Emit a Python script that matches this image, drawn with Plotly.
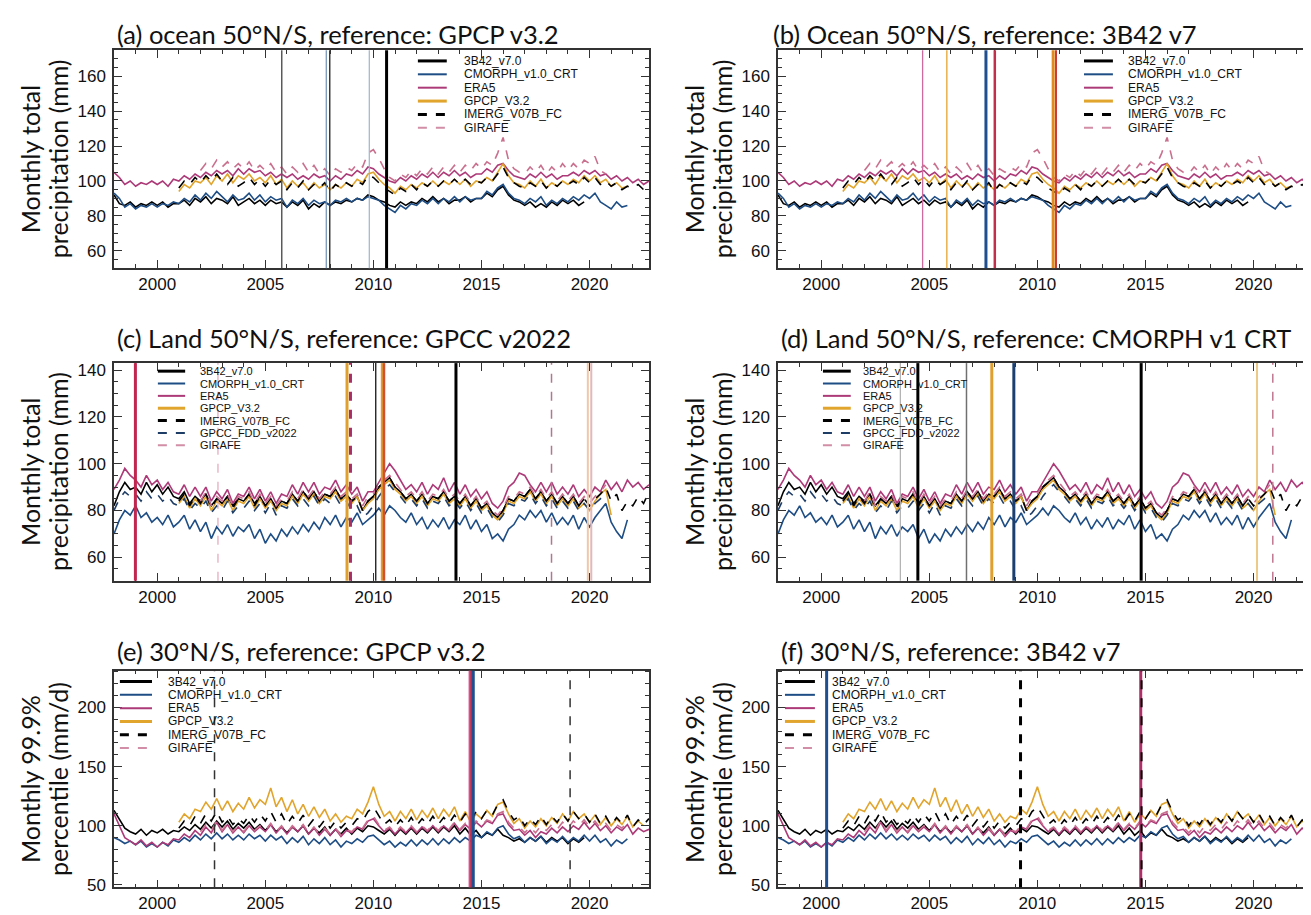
import plotly.graph_objects as go

# ---------------- data (quarterly samples) ----------------
QSTEP = 0.25

# Ocean 50N/S, monthly total precipitation (mm)
ocean_3b42_start = 1998.0
ocean_3b42 = [92,87,86,88, 85,87,86,88, 86,88,85,87, 87,89,86,90, 88,91,87,90, 89,87,91,86,
              88,90,87,89, 86,89,87,88, 85,88,86,89, 84,87,85,88, 86,88,87,89, 88,90,89,92,
              91,89,88,86, 85,88,86,88, 87,90,88,91, 88,90,87,89, 89,91,88,90, 90,93,91,95,
              97,92,89,88, 86,88,85,87, 85,88,86,89, 87,89,86,88]
ocean_cmorph_start = 1998.0
ocean_cmorph = [93,90,85,87, 84,86,85,87, 85,87,86,88, 87,90,88,92, 89,93,90,94, 91,88,92,89,
                90,93,89,92, 88,91,89,90, 85,89,87,90, 86,89,87,88, 86,89,88,90, 88,90,89,91,
                90,89,86,84, 82,86,84,87, 86,89,87,90, 87,90,88,91, 88,91,89,90, 90,94,92,96,
                98,93,90,89, 87,90,88,91, 86,89,87,90, 88,91,89,92, 90,93,88,86, 84,88,85,86]
ocean_era5_start = 1998.0
ocean_era5 = [105,102,98,100, 97,99,98,100, 98,100,97,101, 100,103,101,104, 102,105,103,106,
              104,106,103,107, 104,107,105,106, 103,105,102,104, 102,104,101,103, 101,104,102,103,
              100,103,101,104, 103,106,104,108, 107,104,102,100, 99,102,100,103, 101,104,102,105,
              102,105,103,106, 103,105,102,104, 104,107,105,109, 110,106,103,102, 101,104,102,105,
              102,104,101,103, 103,105,103,106, 104,106,103,104, 101,103,100,102, 99,101,98,100]
ocean_gpcp_start = 2001.0
ocean_gpcp = [94,98,96,100, 99,102,98,103, 100,104,99,103, 101,104,100,102, 99,103,98,101,
              96,100,97,99, 95,99,96,98, 95,98,96,99, 97,101,99,104, 105,101,98,96,
              93,97,95,98, 96,99,97,100, 97,100,98,101, 98,101,97,100, 99,102,100,105,
              110,103,99,98, 96,100,97,101, 96,99,97,100, 98,101,99,103, 100,103,99,101, 97,99,96,97]
ocean_imerg_start = 2001.0
ocean_imerg = [96,100,98,102, 99,103,100,104, 100,98,102,97, 99,102,98,101, 97,101,98,100,
               95,99,96,100, 95,98,96,99, 94,98,96,99, 97,100,98,103, 102,99,96,94,
               92,96,94,98, 95,99,97,100, 97,100,98,101, 98,101,98,100, 99,102,100,104,
               108,102,99,97, 96,99,97,100, 96,99,97,100, 98,100,98,102, 99,102,98,100,
               97,99,95,97, 96,98,95,97]
ocean_girafe_start = 2002.0
ocean_girafe = [106,110,107,112, 108,111,107,110, 107,111,106,109, 106,110,105,108, 104,108,105,110,
                105,109,104,107, 103,107,105,108, 106,110,108,116, 118,113,107,102, 100,104,102,106,
                103,107,104,108, 104,108,105,109, 105,109,106,110, 107,111,109,116, 125,112,107,105,
                104,108,105,109, 104,108,105,110, 106,110,107,112, 110,114,106,104]

# Land 50N/S, monthly total precipitation (mm)
land_3b42_start = 1998.0
land_3b42 = [82,88,92,89, 90,87,92,88, 91,87,90,86, 85,88,83,86, 84,87,82,85, 83,86,82,85,
             84,87,83,86, 82,85,81,84, 83,87,84,88, 85,88,84,87, 86,89,85,87, 84,86,80,84,
             86,90,92,94, 90,88,85,87, 84,87,83,86, 85,88,84,86, 83,86,82,85, 81,83,79,77,
             80,85,84,87, 86,89,85,88, 84,87,83,86, 83,86,82,85]
land_cmorph_start = 1998.0
land_cmorph = [70,76,80,78, 82,77,79,75, 77,74,78,73, 75,78,72,76, 71,75,68,73, 70,74,69,73,
               71,74,68,72, 66,70,67,72, 69,73,70,74, 71,75,72,77, 74,78,73,77, 75,79,74,76,
               78,81,78,82, 80,77,75,79, 74,77,72,76, 73,77,72,76, 74,78,72,76, 71,74,68,70,
               67,72,74,78, 76,80,77,80, 75,79,74,77, 74,78,72,77, 73,77,80,83, 75,71,68,76]
land_era5_start = 1998.0
land_era5 = [89,93,98,95, 93,90,95,91, 93,89,92,88, 87,91,86,90, 86,90,84,88, 85,89,83,87,
             86,90,85,89, 84,88,83,87, 86,91,87,92, 88,92,87,90, 89,93,88,91, 87,90,84,88,
             88,92,96,100, 97,93,89,91, 88,92,87,91, 89,94,88,92, 87,91,86,89, 85,88,83,81,
             84,90,92,96, 95,91,88,92, 88,92,87,90, 87,91,86,89, 86,90,88,93, 89,92,88,93,
             90,92,89,91]
land_gpcp_start = 2001.0
land_gpcp = [83,86,81,85, 82,86,80,84, 82,85,80,84, 83,86,81,85, 81,84,80,83, 82,86,83,87,
             84,87,83,86, 85,88,84,86, 83,86,80,83, 85,89,91,93, 89,87,84,86, 83,86,82,85,
             84,87,83,85, 82,85,81,84, 80,82,78,76, 79,84,83,86, 85,88,84,87, 83,86,82,85,
             82,85,81,83, 80,84,87,89, 78]
land_imerg_start = 2001.0
land_imerg = [84,87,82,86, 83,87,81,85, 83,86,81,85, 84,87,82,86, 82,85,81,84, 83,87,84,88,
              85,88,84,87, 86,89,85,87, 84,86,80,84, 86,90,92,94, 90,88,85,87, 84,87,83,86,
              85,88,84,86, 83,86,82,85, 81,83,79,77, 80,85,84,87, 86,89,85,88, 84,87,83,86,
              83,86,82,85, 82,85,87,90, 84,87,80,84, 82,86,83,88]
land_gpcc_start = 1998.0
land_gpcc = [80,85,88,86, 87,84,88,85, 87,84,86,83, 82,85,80,83, 81,84,79,82, 80,84,79,82,
             81,84,80,83, 79,83,78,82, 81,85,82,85, 82,86,82,85, 83,86,82,84, 80,82,77,79,
             82,86,89,91, 88,86,83,85, 82,85,81,84, 83,86,82,84, 81,84,80,83, 79,81,77,75,
             78,83,82,85, 84,87,83,86, 82,85,81,84, 81,84,80,83, 80,83,85,87]
land_girafe_start = 2002.0
land_girafe = [84,88,82,86, 84,87,82,86, 85,88,83,87, 83,86,82,85, 84,88,85,89, 86,89,85,88,
               87,90,86,88, 85,87,82,86, 87,91,93,95, 92,89,86,88, 85,88,84,87, 86,89,85,87,
               84,87,83,86, 82,84,80,78, 81,86,85,88, 87,90,86,89, 85,88,84,87, 84,87,83,86,
               83,86,88,91]

# 30N/S, monthly 99.9% percentile (mm/d)
ext_3b42_start = 1998.0
ext_3b42 = [113,105,98,95, 93,97,92,96, 94,97,93,96, 95,99,96,101, 97,103,98,104, 99,104,97,102,
            98,103,97,101, 96,101,95,99, 94,99,95,100, 93,98,94,99, 92,97,93,98, 93,98,95,100,
            99,96,93,97, 92,97,93,98, 93,98,94,99, 94,99,95,100, 93,98,92,96, 90,94,92,97,
            92,90,87,89, 86,90,87,91, 86,90,87,90, 85,89,86,90]
ext_cmorph_start = 1998.0
ext_cmorph = [90,88,85,87, 84,87,82,85, 82,86,83,88, 86,90,87,92, 88,93,89,94, 89,93,88,92,
              88,93,89,92, 87,92,88,91, 85,90,86,91, 84,89,85,90, 84,88,82,87, 85,89,86,91,
              92,88,84,87, 82,86,83,88, 83,88,84,89, 84,89,85,90, 86,90,87,92, 90,95,92,98,
              100,93,89,91, 86,90,87,91, 85,89,86,91, 86,90,87,92, 87,92,86,89, 83,88,85,89]
ext_era5_start = 1998.0
ext_era5 = [110,100,90,87, 84,88,83,86, 82,86,84,89, 88,93,90,96, 92,99,94,103, 95,101,94,99,
            94,100,95,99, 95,101,94,99, 93,99,95,100, 93,98,92,97, 92,97,91,96, 94,99,97,104,
            106,100,95,98, 93,98,94,99, 94,99,95,100, 95,100,96,102, 96,101,97,103, 99,104,102,109,
            110,101,96,97, 92,96,90,95, 93,98,94,99, 95,100,97,103, 97,102,96,100, 94,99,96,101,
            93,98,95,97]
ext_gpcp_start = 2001.0
ext_gpcp = [103,110,106,114, 112,120,114,123, 113,121,112,119, 114,124,115,122, 118,132,116,124,
            112,122,110,118, 108,116,107,114, 104,110,103,108, 106,114,110,120, 133,118,108,112,
            104,112,106,114, 105,113,107,115, 106,114,108,116, 104,112,103,110, 106,113,108,118,
            120,110,102,106, 98,104,99,106, 100,107,102,110, 104,112,106,110, 103,109,101,107,
            100,106,101,108, 99,104,100]
ext_imerg_start = 2001.0
ext_imerg = [98,104,100,108, 102,110,104,112, 103,108,101,106, 102,109,103,110, 104,112,103,110,
             101,108,102,109, 100,106,99,105, 98,104,98,103, 100,106,104,112, 116,108,101,105,
             99,105,100,107, 100,106,101,108, 101,107,102,109, 103,110,104,112, 106,113,109,118,
             122,112,105,108, 100,106,101,108, 101,108,103,110, 104,112,106,110, 103,110,102,108,
             100,107,102,109, 99,105,101,106]
ext_girafe_start = 2002.0
ext_girafe = [95,101,96,104, 96,102,95,100, 95,101,96,100, 96,102,95,100, 94,100,96,101,
              94,99,93,98, 93,98,92,97, 95,100,98,105, 108,101,96,99, 94,99,95,100,
              95,100,96,101, 96,101,97,103, 97,102,98,104, 100,105,103,110, 112,103,98,99,
              94,99,94,100, 96,101,97,103, 98,104,100,105, 99,104,98,102, 96,101,98,103]

dataset_names = ["3B42_v7.0", "CMORPH_v1.0_CRT", "ERA5", "GPCP_V3.2",
                 "IMERG_V07B_FC", "GPCC_FDD_v2022", "GIRAFE"]

# breakpoint dates (decimal years) per panel
bp_a = [2005.76, 2007.82, 2007.98, 2009.81, 2010.61]
bp_b = [2004.69, 2005.81, 2007.62, 2008.03, 2010.73, 2010.86]
bp_c = [1998.99, 2002.81, 2008.78, 2008.94, 2010.11, 2010.40, 2010.49, 2013.82, 2018.24, 2019.92, 2020.08]
bp_d = [2003.66, 2004.47, 2006.72, 2007.89, 2008.91, 2014.80, 2020.16, 2020.89]
bp_e = [2002.65, 2014.45, 2014.52, 2014.62, 2019.10]
bp_f = [2000.25, 2009.22, 2014.78, 2014.82]

x_ticks = [2000, 2005, 2010, 2015, 2020]

# ---------------- styles ----------------
W, H = 1311, 915
COL = {"3B42_v7.0": "#000000", "CMORPH_v1.0_CRT": "#1d4d84", "ERA5": "#ad3a78",
       "GPCP_V3.2": "#e1a42c", "IMERG_V07B_FC": "#000000", "GPCC_FDD_v2022": "#1e3d66",
       "GIRAFE": "#c9708f"}
DASH = {"IMERG_V07B_FC": "dash", "GPCC_FDD_v2022": "dash", "GIRAFE": "dash"}
LEG_COL = dict(COL, GIRAFE="#d28ea6")
LEG_W = {"3B42_v7.0": 3, "GPCP_V3.2": 3, "IMERG_V07B_FC": 3}

bp_style = {
    "a": [("#5a5a5a", 1.5, "solid"), ("#6f8fb5", 1.2, "solid"), ("#3a3a3a", 1.5, "solid"),
          ("#9db3cc", 1.2, "solid"), ("#000000", 3, "solid")],
    "b": [("#cf6a9e", 1.3, "solid"), ("#e8b04a", 1.5, "solid"), ("#1f4f8f", 3, "solid"),
          ("#c0304a", 2.5, "solid"), ("#e08a20", 3, "solid"), ("#c83c3c", 2, "solid")],
    "c": [("#c0264f", 3, "solid"), ("#e3a6bb", 1.2, "dash"), ("#e0a030", 3, "solid"),
          ("#a8306a", 3, "dash"), ("#000000", 1.2, "solid"), ("#e0a030", 2.5, "solid"),
          ("#d05030", 2.5, "solid"), ("#000000", 3, "solid"), ("#b07890", 1.5, "dash"),
          ("#f0c8a8", 2, "solid"), ("#e4b8b8", 2, "solid")],
    "d": [("#b0b0b0", 1.2, "solid"), ("#000000", 3, "solid"), ("#707070", 1.5, "solid"),
          ("#e0a030", 3, "solid"), ("#1a3f70", 3, "solid"), ("#000000", 3, "solid"),
          ("#e8b860", 1.5, "solid"), ("#c07890", 1.5, "dash")],
    "e": [("#333333", 1.5, "dash"), ("#d05090", 2, "solid"), ("#c03050", 2, "solid"),
          ("#1f4f8f", 3, "solid"), ("#333333", 1.5, "dash")],
    "f": [("#1f4f8f", 3, "solid"), ("#000000", 3, "dash"), ("#b0306a", 3, "solid"),
          ("#000000", 2, "dash")],
}

def px_x(p):
    return p / W

def px_y(p):
    return 1 - p / H

col_dom = [[px_x(106), px_x(641)], [px_x(770), px_x(1305)]]
row_dom = [[px_y(261), px_y(40.7)], [px_y(577), px_y(357)], [px_y(887), px_y(668)]]

ocean = [ocean_3b42, ocean_cmorph, ocean_era5, ocean_gpcp, ocean_imerg, None, ocean_girafe]
ocean_st = [ocean_3b42_start, ocean_cmorph_start, ocean_era5_start, ocean_gpcp_start,
            ocean_imerg_start, None, ocean_girafe_start]
land = [land_3b42, land_cmorph, land_era5, land_gpcp, land_imerg, land_gpcc, land_girafe]
land_st = [land_3b42_start, land_cmorph_start, land_era5_start, land_gpcp_start,
           land_imerg_start, land_gpcc_start, land_girafe_start]
ext = [ext_3b42, ext_cmorph, ext_era5, ext_gpcp, ext_imerg, None, ext_girafe]
ext_st = [ext_3b42_start, ext_cmorph_start, ext_era5_start, ext_gpcp_start,
          ext_imerg_start, None, ext_girafe_start]

# legend geometry: (sample x0, sample x1, text x, first row y, row step) in axis-domain units, font size
LEG_OCEAN_A = (0.568, 0.622, 0.65, 0.951, 0.0614, 12)
LEG_OCEAN_B = (0.572, 0.626, 0.65, 0.951, 0.0614, 12)
LEG_LAND_C = (0.082, 0.133, 0.157, 0.963, 0.0568, 11)
LEG_LAND_D = (0.084, 0.136, 0.155, 0.963, 0.0568, 11)
LEG_EXT_E = (0.011, 0.071, 0.097, 0.95, 0.0614, 12)
LEG_EXT_F = (0.013, 0.069, 0.097, 0.95, 0.0614, 12)

panels = [
    dict(key="a", data=ocean, st=ocean_st, bp=bp_a, yr=[50, 175], ytick=20, y0=60, ymin=5,
         title="(a) ocean 50°N/S, reference: GPCP v3.2", tx=107, ty=24,
         yt=("Monthly total", "precipitation (mm)"), leg=LEG_OCEAN_A),
    dict(key="b", data=ocean, st=ocean_st, bp=bp_b, yr=[50, 175], ytick=20, y0=60, ymin=5,
         title="(b) Ocean 50°N/S, reference: 3B42 v7", tx=763, ty=24,
         yt=("Monthly total", "precipitation (mm)"), leg=LEG_OCEAN_B),
    dict(key="c", data=land, st=land_st, bp=bp_c, yr=[50, 143], ytick=20, y0=60, ymin=5,
         title="(c) Land 50°N/S, reference: GPCC v2022", tx=107, ty=332,
         yt=("Monthly total", "precipitation (mm)"), leg=LEG_LAND_C),
    dict(key="d", data=land, st=land_st, bp=bp_d, yr=[50, 143], ytick=20, y0=60, ymin=5,
         title="(d) Land 50°N/S, reference: CMORPH v1 CRT", tx=771, ty=332,
         yt=("Monthly total", "precipitation (mm)"), leg=LEG_LAND_D),
    dict(key="e", data=ext, st=ext_st, bp=bp_e, yr=[48, 231], ytick=50, y0=50, ymin=10,
         title="(e) 30°N/S, reference: GPCP v3.2", tx=107, ty=648,
         yt=("Monthly 99.9%", "percentile (mm/d)"), leg=LEG_EXT_E),
    dict(key="f", data=ext, st=ext_st, bp=bp_f, yr=[48, 231], ytick=50, y0=50, ymin=10,
         title="(f) 30°N/S, reference: 3B42 v7", tx=771, ty=648,
         yt=("Monthly 99.9%", "percentile (mm/d)"), leg=LEG_EXT_F),
]

fig = go.Figure()
shapes = []
annotations = []
layout_axes = {}

TICKFONT = dict(family="Liberation Sans, Arial, sans-serif", size=17, color="#111111")
TITLEFONT = dict(family="Lato, Open Sans, sans-serif", size=25.5, color="#111111")
YTFONT = dict(family="Lato, Open Sans, sans-serif", size=25, color="#111111")

for i, p in enumerate(panels):
    n = i + 1
    xa = "x" if n == 1 else f"x{n}"
    ya = "y" if n == 1 else f"y{n}"
    xkey = "xaxis" if n == 1 else f"xaxis{n}"
    ykey = "yaxis" if n == 1 else f"yaxis{n}"
    r, c = i // 2, i % 2

    for name, vals, st in zip(dataset_names, p["data"], p["st"]):
        if vals is None:
            continue
        xs = [st + k * QSTEP for k in range(len(vals))]
        fig.add_trace(go.Scatter(x=xs, y=vals, mode="lines", xaxis=xa, yaxis=ya,
                                 showlegend=False, name=name,
                                 line=dict(color=COL[name], width=1.6,
                                           dash=DASH.get(name, "solid"))))

    for yr_bp, (colr, wd, ds) in zip(p["bp"], bp_style[p["key"]]):
        shapes.append(dict(type="line", xref=xa, yref=f"{ya} domain", x0=yr_bp, x1=yr_bp,
                           y0=0, y1=1, layer="above",
                           line=dict(color=colr, width=wd, dash=ds)))

    # legend (drawn inside the axes domain)
    lx0, lx1, ltx, ly0, ldy, lfs = p["leg"]
    k = 0
    for name, vals in zip(dataset_names, p["data"]):
        if vals is None:
            continue
        yy = ly0 - k * ldy
        shapes.append(dict(type="line", xref=f"{xa} domain", yref=f"{ya} domain",
                           x0=lx0, x1=lx1, y0=yy, y1=yy, layer="above",
                           line=dict(color=LEG_COL[name], width=LEG_W.get(name, 2),
                                     dash=DASH.get(name, "solid"))))
        annotations.append(dict(xref=f"{xa} domain", yref=f"{ya} domain", x=ltx, y=yy,
                                xanchor="left", yanchor="middle", showarrow=False,
                                text=name, font=dict(family="Liberation Sans, Arial, sans-serif",
                                                     size=lfs, color="#111111")))
        k += 1

    # panel title
    annotations.append(dict(xref="paper", yref="paper", x=px_x(p["tx"]), y=px_y(p["ty"]),
                            xanchor="left", yanchor="middle", showarrow=False,
                            text=p["title"], font=TITLEFONT))
    # y-axis title (two lines)
    left = 106 if c == 0 else 770
    ymid = (row_dom[r][0] + row_dom[r][1]) / 2
    for t, off in zip(p["yt"], (84, 56)):
        annotations.append(dict(xref="paper", yref="paper", x=px_x(left - off), y=ymid,
                                xanchor="center", yanchor="middle", showarrow=False,
                                textangle=-90, text=t, font=YTFONT))

    layout_axes[xkey] = dict(domain=col_dom[c], anchor=ya, range=[1998.0, 2022.75],
                             tickmode="array", tickvals=x_ticks, ticks="inside", ticklen=8,
                             tickwidth=1.3, tickcolor="#333333",
                             minor=dict(dtick=1, tick0=1998, ticks="inside", ticklen=4,
                                        tickwidth=1.1, tickcolor="#333333"),
                             showline=True, linecolor="#333333", linewidth=1.5, mirror="ticks",
                             showgrid=False, zeroline=False, tickfont=TICKFONT,
                             ticklabelstandoff=0)
    layout_axes[ykey] = dict(domain=row_dom[r], anchor=xa, range=p["yr"],
                             tickmode="linear", tick0=p["y0"], dtick=p["ytick"],
                             ticks="inside", ticklen=8, tickwidth=1.3, tickcolor="#333333",
                             minor=dict(dtick=p["ymin"], ticks="inside", ticklen=4,
                                        tickwidth=1.1, tickcolor="#333333"),
                             showline=True, linecolor="#333333", linewidth=1.5, mirror="ticks",
                             showgrid=False, zeroline=False, tickfont=TICKFONT,
                             ticklabelstandoff=3)

fig.update_layout(width=W, height=H, margin=dict(l=0, r=0, t=0, b=0),
                  paper_bgcolor="white", plot_bgcolor="white", showlegend=False,
                  shapes=shapes, annotations=annotations, **layout_axes)

fig.write_html("out.html")
